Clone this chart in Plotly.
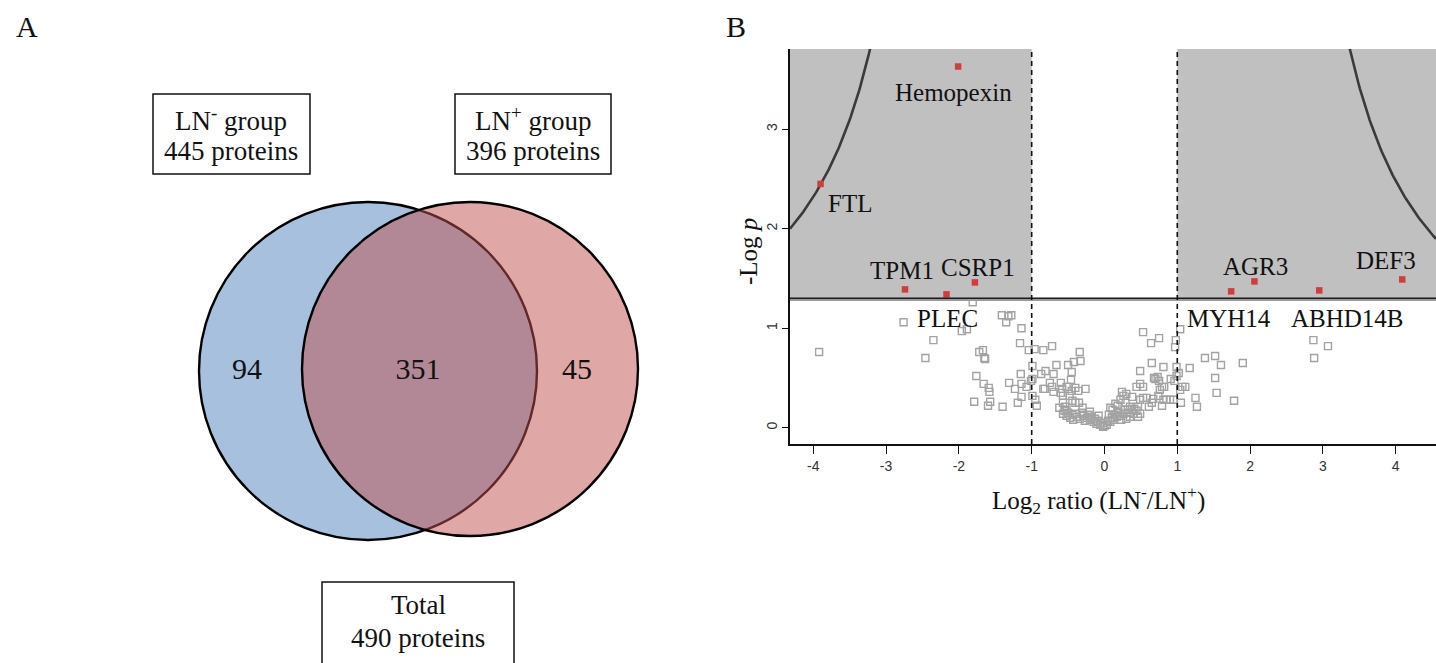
import numpy as np
import plotly.graph_objects as go

W, H = 1436, 663

# ---------------- DATA ----------------
# Panel A: Venn counts
venn_counts = [94, 351, 45]          # LN- only, shared, LN+ only
group_names = ["LN<sup>-</sup> group", "LN<sup>+</sup> group"]
group_totals = [445, 396]
total_proteins = 490

# Panel B: volcano plot
sig_names = ["FTL", "Hemopexin", "TPM1", "PLEC", "CSRP1", "MYH14", "AGR3", "ABHD14B", "DEF3"]
sig_log2 = [-3.90, -2.01, -2.74, -2.17, -1.78, 1.74, 2.06, 2.95, 4.09]
sig_neglogp = [2.45, 3.63, 1.39, 1.34, 1.46, 1.37, 1.47, 1.38, 1.49]

bg_log2 = [
    -3.92, -2.76, -2.46, -2.35, -1.96, -1.89, -1.81, -1.76, -1.72, -1.67, -1.65, -1.64, -1.66, -1.59,
    -1.58, -1.79, -1.57, -1.60, -1.40, -1.41, -1.35, -1.32, -1.31, -1.28, -1.14, -1.16, -1.04, -0.96,
    -0.84, -0.72, -0.99, -1.15, -1.23, -1.14, -1.07, -1.01, -0.99, -1.14, -1.19, -0.99, -0.95, -0.93,
    -0.87, -0.81, -0.70, -0.75, -0.84, -0.82, -0.72, -0.70, -0.66, -0.60, -0.58, -0.60, -0.57, -0.50,
    -0.45, -0.42, -0.33, -0.34, -0.46, -0.49, -0.45, -0.48, -0.52, -0.40, -0.36, -0.26, -0.57, -0.54,
    -0.52, -0.44, -0.40, -0.35,
    -0.57, -0.52, -0.47, -0.43, -0.38, -0.34, -0.29, -0.24, -0.20, -0.15, -0.11, -0.06, -0.02, 0.03,
    0.08, 0.12, 0.17, 0.21, 0.26, 0.30, 0.35, 0.40, 0.44, 0.49,
    -0.55, -0.50, -0.44, -0.40, -0.31, -0.27, -0.22, -0.18, -0.13, -0.09, -0.04, 0.00, 0.05, 0.10,
    0.14, 0.19, 0.23, 0.28, 0.33, 0.38, 0.46, -0.62, -0.30, -0.20, 0.11, 0.18, 0.06, -0.08,
    0.26, 0.30, 0.29, 0.38, 0.35, 0.32, 0.41, 0.46, 0.49, 0.53, 0.58, 0.61, 0.65, 0.67, 0.74, 0.76,
    0.79, 0.82, 0.81, 0.79, 0.85, 0.90, 0.95,
    0.53, 0.64, 0.75, 0.65, 0.81, 0.49, 0.68, 0.73, 0.70, 0.75, 0.91, 0.96, 0.99, 0.98, 0.97, 1.04,
    0.99, 1.02, 1.17, 1.07, 1.11, 1.25, 1.27, 1.04, 1.05, 0.44, 0.49, 0.53,
    1.38, 1.52, 1.60, 1.90, 1.52, 1.54, 1.78, 2.87, 3.07, 2.88,
    0.08, 0.15, 0.22, 0.24,
]
bg_neglogp = [
    0.76, 1.06, 0.70, 0.88, 0.97, 0.99, 1.26, 0.52, 0.76, 0.78, 0.70, 0.69, 0.44, 0.40,
    0.36, 0.26, 0.26, 0.22, 0.21, 1.13, 1.06, 1.12, 0.45, 1.13, 1.00, 0.85, 0.78, 0.79,
    0.78, 0.82, 0.62, 0.54, 0.39, 0.44, 0.41, 0.47, 0.49, 0.31, 0.25, 0.32, 0.28, 0.22,
    0.54, 0.57, 0.54, 0.45, 0.39, 0.39, 0.41, 0.36, 0.63, 0.45, 0.39, 0.35, 0.32, 0.63,
    0.56, 0.66, 0.67, 0.76, 0.48, 0.41, 0.37, 0.32, 0.41, 0.40, 0.37, 0.39, 0.25, 0.21,
    0.18, 0.27, 0.25, 0.25,
    0.14, 0.12, 0.10, 0.08, 0.11, 0.09, 0.12, 0.10, 0.08, 0.06, 0.04, 0.03, 0.01, 0.03,
    0.06, 0.08, 0.11, 0.12, 0.14, 0.09, 0.11, 0.14, 0.17, 0.14,
    0.17, 0.15, 0.13, 0.14, 0.15, 0.07, 0.13, 0.11, 0.09, 0.07, 0.05, 0.02, 0.07, 0.10,
    0.13, 0.16, 0.08, 0.18, 0.15, 0.18, 0.11, 0.20, 0.20, 0.16, 0.18, 0.22, 0.13, 0.12,
    0.32, 0.34, 0.25, 0.31, 0.21, 0.18, 0.19, 0.21, 0.28, 0.30, 0.30, 0.21, 0.25, 0.29, 0.32, 0.38,
    0.41, 0.41, 0.28, 0.22, 0.28, 0.28, 0.28,
    0.96, 0.85, 0.90, 0.65, 0.61, 0.57, 0.50, 0.51, 0.49, 0.47, 0.49, 0.47, 0.52, 0.88, 0.81, 0.99,
    0.61, 0.55, 0.60, 0.41, 0.41, 0.30, 0.21, 0.38, 0.25, 0.41, 0.44, 0.41,
    0.70, 0.72, 0.63, 0.65, 0.50, 0.35, 0.27, 0.88, 0.82, 0.70,
    0.20, 0.24, 0.28, 0.36,
]

x_ticks = [-4, -3, -2, -1, 0, 1, 2, 3, 4]
y_ticks = [0, 1, 2, 3]

# thresholds
FC_CUT = 1.0
P_CUT = 1.3
CURVE_LEFT = (4.63, 2.004)   # y = a / (|x| - b)
CURVE_RIGHT = (4.48, 2.194)

# ---------------- STYLE / LAYOUT ----------------
SERIF = "Liberation Serif, Times New Roman, serif"
SANS = "Liberation Sans, Arial, sans-serif"
X_MIN, X_MAX = -4.32, 4.554
Y_MIN, Y_MAX = -0.164, 3.806
PLOT_L, PLOT_T, PLOT_B = 790, 49, 444

fig = go.Figure()

# Volcano: non-significant
fig.add_trace(go.Scatter(
    x=bg_log2, y=bg_neglogp, mode="markers",
    marker=dict(symbol="square-open", size=7, color="#a3a3a3", line=dict(width=1.4, color="#a3a3a3")),
    xaxis="x", yaxis="y", showlegend=False, hoverinfo="x+y"))

# threshold curves
xl = np.linspace(X_MIN, -CURVE_LEFT[1] - 1.0, 80)
yl = CURVE_LEFT[0] / (np.abs(xl) - CURVE_LEFT[1])
xr = np.linspace(CURVE_RIGHT[1] + 1.05, X_MAX, 80)
yr = CURVE_RIGHT[0] / (np.abs(xr) - CURVE_RIGHT[1])
for cx, cy in [(xl, yl), (xr, yr)]:
    fig.add_trace(go.Scatter(x=cx, y=cy, mode="lines", line=dict(color="#3a3a3a", width=2.6),
                             xaxis="x", yaxis="y", showlegend=False, hoverinfo="skip"))

# significant
fig.add_trace(go.Scatter(
    x=sig_log2, y=sig_neglogp, mode="markers", text=sig_names,
    marker=dict(symbol="square", size=6.5, color="#d23c3c"),
    xaxis="x", yaxis="y", showlegend=False, hoverinfo="text+x+y"))

# Venn counts (pixel overlay axes)
venn_pos = [(247, 371), (418, 371), (577, 371)]
fig.add_trace(go.Scatter(
    x=[p[0] for p in venn_pos], y=[p[1] for p in venn_pos], mode="text",
    text=[str(v) for v in venn_counts],
    textfont=dict(family=SERIF, size=30, color="#111111"),
    xaxis="x2", yaxis="y2", showlegend=False, hoverinfo="skip"))

shapes = []
# gray significance regions
shapes.append(dict(type="rect", xref="x", yref="y", x0=X_MIN, x1=-FC_CUT, y0=P_CUT, y1=Y_MAX,
                   fillcolor="#c0c0c0", line=dict(width=0), layer="below"))
shapes.append(dict(type="rect", xref="x", yref="y", x0=FC_CUT, x1=X_MAX, y0=P_CUT, y1=Y_MAX,
                   fillcolor="#c0c0c0", line=dict(width=0), layer="below"))
# p threshold line
shapes.append(dict(type="line", xref="x", yref="y", x0=X_MIN, x1=X_MAX, y0=P_CUT - 0.012, y1=P_CUT - 0.012,
                   line=dict(color="#9a9a9a", width=3), layer="below"))
shapes.append(dict(type="line", xref="x", yref="y", x0=X_MIN, x1=X_MAX, y0=P_CUT, y1=P_CUT,
                   line=dict(color="#1a1a1a", width=1.5)))
# fold-change dashed lines
for xv in (-FC_CUT, FC_CUT):
    shapes.append(dict(type="line", xref="x", yref="y", x0=xv, x1=xv, y0=Y_MIN, y1=Y_MAX,
                       line=dict(color="#111111", width=1.6, dash="5px,4px")))

# Venn circles
shapes.append(dict(type="circle", xref="x2", yref="y2", x0=368 - 169, x1=368 + 169, y0=371 - 169, y1=371 + 169,
                   fillcolor="rgba(79,129,189,0.5)", line=dict(color="#000000", width=2.4), layer="below"))
shapes.append(dict(type="circle", xref="x2", yref="y2", x0=470 - 168, x1=470 + 168, y0=369 - 167, y1=369 + 167,
                   fillcolor="rgba(192,80,77,0.5)", line=dict(color="#000000", width=2.4), layer="below"))
# boxes
boxes = [(153, 310, 94, 174), (455, 611, 94, 174), (322, 514, 582, 680)]
for x0, x1, y0, y1 in boxes:
    shapes.append(dict(type="rect", xref="x2", yref="y2", x0=x0, x1=x1, y0=y0, y1=y1,
                       line=dict(color="#111111", width=1.5), fillcolor="rgba(0,0,0,0)"))

annotations = []


def pix_text(x, y, text, size, angle=0):
    annotations.append(dict(x=x, y=y, xref="x2", yref="y2", text=text, showarrow=False,
                            font=dict(family=SERIF, size=size, color="#111111"),
                            xanchor="center", yanchor="middle", textangle=angle))


# box texts
box_centers = [231, 533]
for cx, name, tot in zip(box_centers, group_names, group_totals):
    pix_text(cx, 119, name, 27)
    pix_text(cx, 151, f"{tot} proteins", 27)
pix_text(418, 605, "Total", 27)
pix_text(418, 638, f"{total_proteins} proteins", 27)

# panel letters
pix_text(27, 26, "A", 30)
pix_text(736, 26, "B", 30)

# axis titles
pix_text(1098, 500, "Log<sub>2</sub> ratio (LN<sup>-</sup>/LN<sup>+</sup>)", 25)
pix_text(748, 252, "-Log <i>p</i>", 25, angle=-90)

# volcano labels (pixel offsets from point)
label_offsets = {
    "FTL": (29, -20), "Hemopexin": (-5, -26), "TPM1": (-3, 19), "PLEC": (1, -24),
    "CSRP1": (3, 15), "MYH14": (-2, -27), "AGR3": (1, 15), "ABHD14B": (28, -28), "DEF3": (-16, 19),
}
for nm, xv, yv in zip(sig_names, sig_log2, sig_neglogp):
    dx, dy = label_offsets[nm]
    annotations.append(dict(x=xv, y=yv, xref="x", yref="y", text=nm, showarrow=False,
                            xshift=dx, yshift=dy, xanchor="center", yanchor="middle",
                            font=dict(family=SERIF, size=25, color="#111111")))

fig.update_layout(
    width=W, height=H, autosize=False,
    margin=dict(l=0, r=0, t=0, b=0, pad=0),
    paper_bgcolor="white", plot_bgcolor="rgba(0,0,0,0)",
    font=dict(family=SERIF, color="#111111"),
    shapes=shapes, annotations=annotations,
    xaxis=dict(domain=[PLOT_L / W, 1.0], range=[X_MIN, X_MAX], anchor="y",
               tickvals=x_ticks, ticktext=[str(t) for t in x_ticks],
               ticks="outside", ticklen=8, tickwidth=1.2, tickcolor="#111111",
               showline=True, linecolor="#111111", linewidth=1.6,
               showgrid=False, zeroline=False,
               tickfont=dict(family=SANS, size=14, color="#333333")),
    yaxis=dict(domain=[1 - PLOT_B / H, 1 - PLOT_T / H], range=[Y_MIN, Y_MAX], anchor="x",
               tickvals=y_ticks, ticktext=[str(t) for t in y_ticks], tickangle=-90,
               ticks="outside", ticklen=6, tickwidth=1.2, tickcolor="#111111",
               showline=True, linecolor="#111111", linewidth=1.6,
               showgrid=False, zeroline=False,
               tickfont=dict(family=SANS, size=14, color="#333333")),
    xaxis2=dict(domain=[0, 1], range=[0, W], anchor="y2", visible=False, fixedrange=True),
    yaxis2=dict(domain=[0, 1], range=[H, 0], anchor="x2", visible=False, fixedrange=True),
)

fig.write_html("out.html", config={"displayModeBar": False},
               post_script="document.body.style.margin='0px';document.body.style.overflow='hidden';")
